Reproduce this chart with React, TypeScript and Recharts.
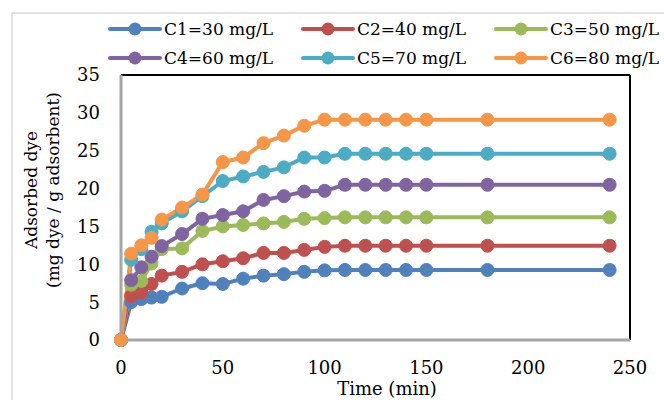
import React from 'react';
import { LineChart, Line, XAxis, YAxis, ReferenceLine } from 'recharts';

const times = [0, 5, 10, 15, 20, 30, 40, 50, 60, 70, 80, 90, 100, 110, 120, 130, 140, 150, 180, 240];
const c1 = [0, 5.0, 5.4, 5.6, 5.7, 6.8, 7.5, 7.4, 8.1, 8.5, 8.7, 9.0, 9.2, 9.25, 9.25, 9.25, 9.25, 9.25, 9.25, 9.25];
const c2 = [0, 5.8, 6.3, 7.4, 8.5, 9.0, 10.0, 10.4, 10.8, 11.5, 11.5, 11.9, 12.3, 12.45, 12.45, 12.45, 12.45, 12.45, 12.45, 12.45];
const c3 = [0, 7.3, 7.8, 10.1, 12.0, 12.1, 14.4, 15.0, 15.2, 15.4, 15.6, 16.0, 16.1, 16.2, 16.2, 16.2, 16.2, 16.2, 16.2, 16.2];
const c4 = [0, 7.9, 9.6, 11.0, 12.4, 14.0, 16.0, 16.5, 17.0, 18.5, 19.0, 19.6, 19.7, 20.5, 20.5, 20.5, 20.5, 20.5, 20.5, 20.5];
const c5 = [0, 10.6, 12.0, 14.3, 15.4, 17.0, 19.0, 21.0, 21.6, 22.2, 22.8, 24.1, 24.1, 24.6, 24.6, 24.6, 24.6, 24.6, 24.6, 24.6];
const c6 = [0, 11.4, 12.5, 13.5, 15.9, 17.5, 19.2, 23.5, 24.1, 26.0, 27.0, 28.3, 29.1, 29.1, 29.1, 29.1, 29.1, 29.1, 29.1, 29.1];

const seriesKeys = ['c1', 'c2', 'c3', 'c4', 'c5', 'c6'];
const seriesValues = [c1, c2, c3, c4, c5, c6];
const seriesNames = ['C1=30 mg/L', 'C2=40 mg/L', 'C3=50 mg/L', 'C4=60 mg/L', 'C5=70 mg/L', 'C6=80 mg/L'];
const seriesColors = ['#4F81BD', '#C0504D', '#9BBB59', '#8064A2', '#4BACC6', '#F79646'];

const xTicks = [0, 50, 100, 150, 200, 250];
const yTicks = [0, 5, 10, 15, 20, 25, 30, 35];
const xTitle = 'Time (min)';
const yTitle1 = 'Adsorbed dye';
const yTitle2 = '(mg dye / g adsorbent)';

const data = times.map((t, i) => {
  const row: Record<string, number> = { t };
  seriesKeys.forEach((k, j) => {
    row[k] = seriesValues[j][i];
  });
  return row;
});

const FONT = 'DejaVu Serif';

export default function App() {
  const legendCols = [110, 303, 496];
  const legendRows = [29, 58];
  return (
    <div style={{ position: 'absolute', left: 0, top: 0, width: 664, height: 400, background: '#fff', overflow: 'hidden' }}>
      <svg width={664} height={400} style={{ position: 'absolute', left: 0, top: 0 }}>
        <rect x={12} y={13} width={700} height={420} fill="#fff" stroke="#d9d9d9" strokeWidth={1.5} />
      </svg>
      <div style={{ position: 'absolute', left: 0, top: 0 }}>
        <LineChart width={664} height={400} data={data} margin={{ top: 75, right: 34, bottom: 0, left: 0 }}>
          <XAxis
            dataKey="t"
            type="number"
            domain={[0, 250]}
            ticks={xTicks}
            tickLine={false}
            height={60}
            tickMargin={15}
            axisLine={{ stroke: '#a6a6a6', strokeWidth: 3 }}
            tick={{ fill: '#000', fontSize: 18, fontFamily: FONT }}
            interval={0}
          />
          <YAxis
            type="number"
            domain={[0, 35]}
            ticks={yTicks}
            tickLine={false}
            width={121}
            tickMargin={15}
            axisLine={{ stroke: '#a6a6a6', strokeWidth: 3 }}
            tick={{ fill: '#000', fontSize: 18, fontFamily: FONT }}
            interval={0}
          />
          <ReferenceLine y={35} stroke="#000" strokeWidth={2} />
          <ReferenceLine x={250} stroke="#000" strokeWidth={2} />
          {seriesKeys.map((k, i) => (
            <Line
              key={k}
              dataKey={k}
              name={seriesNames[i]}
              stroke={seriesColors[i]}
              strokeWidth={4}
              dot={{ r: 6.5, fill: seriesColors[i], stroke: seriesColors[i], strokeWidth: 1 }}
              activeDot={false}
              isAnimationActive={false}
            />
          ))}
        </LineChart>
      </div>
      <svg width={664} height={400} style={{ position: 'absolute', left: 0, top: 0, pointerEvents: 'none' }}>
        {seriesNames.map((name, i) => {
          const x = legendCols[i % 3];
          const y = legendRows[Math.floor(i / 3)];
          return (
            <g key={name}>
              <line x1={x} y1={y} x2={x + 50} y2={y} stroke={seriesColors[i]} strokeWidth={4} strokeLinecap="round" />
              <circle cx={x + 25} cy={y} r={6.5} fill={seriesColors[i]} />
              <text x={x + 54} y={y + 6} fontSize={17} fontFamily={FONT} fill="#000">{name}</text>
            </g>
          );
        })}
        <text x={387} y={395} fontSize={18} fontFamily={FONT} fill="#000" textAnchor="middle">{xTitle}</text>
        <text transform="translate(37,190) rotate(-90)" fontSize={17} fontFamily={FONT} fill="#000" textAnchor="middle">{yTitle1}</text>
        <text transform="translate(59,190) rotate(-90)" fontSize={17} fontFamily={FONT} fill="#000" textAnchor="middle">{yTitle2}</text>
      </svg>
    </div>
  );
}
